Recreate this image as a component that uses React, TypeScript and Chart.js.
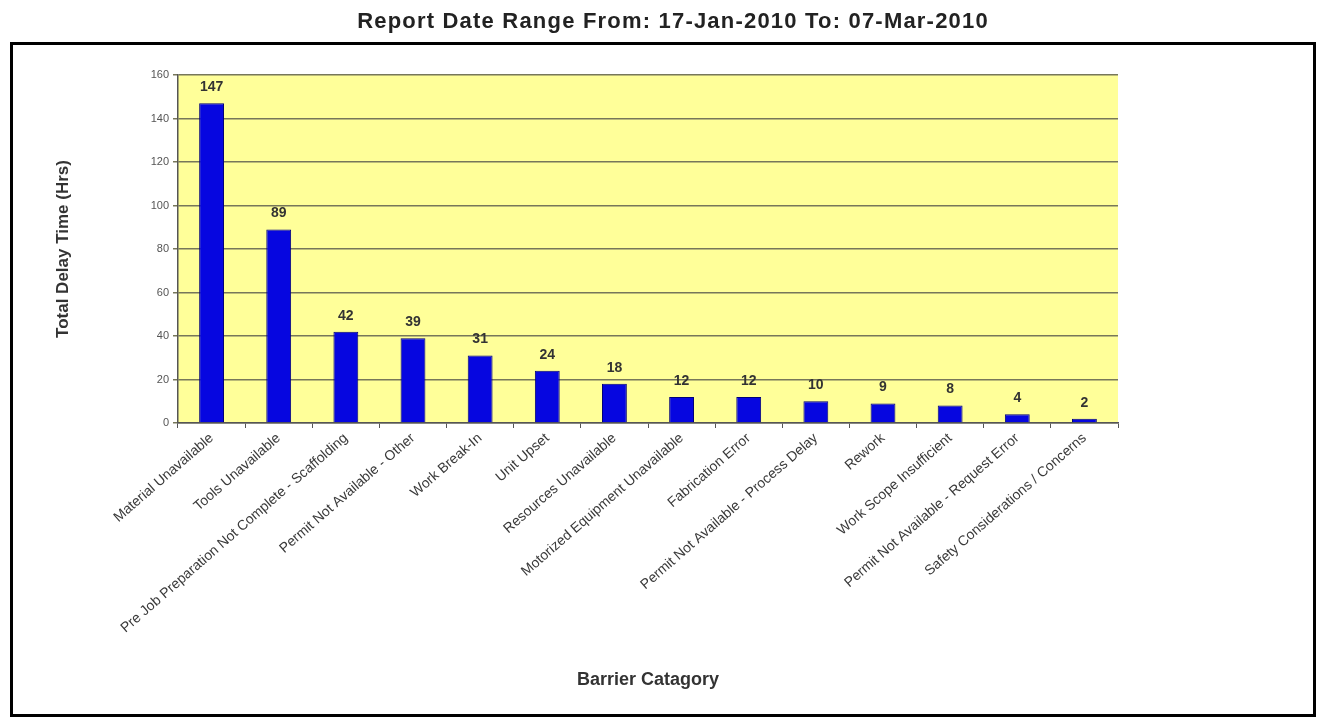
import React, { useEffect, useRef } from "react";
import { Chart, registerables } from "chart.js";

Chart.register(...registerables);

const TITLE = "Report Date Range From: 17-Jan-2010 To: 07-Mar-2010";
const Y_TITLE = "Total Delay Time (Hrs)";
const X_TITLE = "Barrier Catagory";

const categories = [
  "Material Unavailable",
  "Tools Unavailable",
  "Pre Job Preparation Not Complete - Scaffolding",
  "Permit Not Available - Other",
  "Work Break-In",
  "Unit Upset",
  "Resources Unavailable",
  "Motorized Equipment Unavailable",
  "Fabrication Error",
  "Permit Not Available - Process Delay",
  "Rework",
  "Work Scope Insufficient",
  "Permit Not Available - Request Error",
  "Safety Considerations / Concerns",
];

const delayHours = [147, 89, 42, 39, 31, 24, 18, 12, 12, 10, 9, 8, 4, 2];

const yTicks = [0, 20, 40, 60, 80, 100, 120, 140, 160];

const FONT = "'Liberation Sans', Arial, sans-serif";

const decorPlugin = {
  id: "decor",
  beforeDraw(chart: any) {
    const { ctx, chartArea } = chart;
    ctx.save();
    ctx.fillStyle = "#ffffff";
    ctx.fillRect(0, 0, chart.width, chart.height);
    ctx.fillStyle = "#FFFF99";
    ctx.fillRect(chartArea.left, chartArea.top, chartArea.right - chartArea.left, chartArea.bottom - chartArea.top);
    ctx.restore();
  },
  afterDraw(chart: any) {
    const { ctx } = chart;
    ctx.save();
    // outer frame
    ctx.strokeStyle = "#000000";
    ctx.lineWidth = 3;
    ctx.strokeRect(11.5, 43.5, 1303, 672);
    // title
    ctx.fillStyle = "#222222";
    ctx.font = `bold 22px ${FONT}`;
    ctx.textAlign = "center";
    ctx.textBaseline = "middle";
    try {
      (ctx as any).letterSpacing = "1.2px";
    } catch (e) {}
    ctx.fillText(TITLE, 673, 22);
    try {
      (ctx as any).letterSpacing = "0px";
    } catch (e) {}
    // value labels
    const meta = chart.getDatasetMeta(0);
    ctx.font = `bold 14px ${FONT}`;
    ctx.fillStyle = "#333333";
    ctx.textBaseline = "bottom";
    meta.data.forEach((bar: any, i: number) => {
      ctx.fillText(String(delayHours[i]), bar.x, bar.y - 9);
    });
    ctx.restore();
  },
};

export default function App() {
  const ref = useRef<HTMLCanvasElement | null>(null);

  useEffect(() => {
    if (!ref.current) return;
    const chart = new Chart(ref.current, {
      type: "bar",
      data: {
        labels: categories,
        datasets: [
          {
            data: delayHours,
            backgroundColor: "#0606E0",
            borderColor: "#00007a",
            borderWidth: 1,
            barPercentage: 0.37,
            categoryPercentage: 1,
          },
        ],
      },
      options: {
        animation: false,
        responsive: false,
        devicePixelRatio: 1,
        layout: { padding: { left: 49, right: 201, top: 75, bottom: 23 } },
        plugins: {
          legend: { display: false },
          tooltip: { enabled: false },
          title: { display: false },
        },
        scales: {
          x: {
            grid: {
              display: true,
              drawOnChartArea: false,
              drawTicks: true,
              tickLength: 5,
              color: "#555555",
              offset: true,
            },
            border: { display: true, color: "#555555", width: 1.5 },
            ticks: {
              autoSkip: false,
              maxRotation: 41,
              minRotation: 41,
              color: "#3a3a3a",
              font: { family: FONT, size: 14 },
              padding: 2,
            },
            title: {
              display: true,
              text: X_TITLE,
              color: "#333333",
              font: { family: FONT, size: 18, weight: "bold" },
            },
            afterFit(scale: any) {
              scale.height = 272;
            },
          },
          y: {
            min: 0,
            max: 160,
            afterBuildTicks(scale: any) {
              scale.ticks = yTicks.map((v) => ({ value: v }));
            },
            grid: {
              color: "#77775a",
              lineWidth: 1.5,
              tickLength: 5,
            },
            border: { display: true, color: "#555555", width: 1.5 },
            ticks: {
              color: "#555555",
              font: { family: FONT, size: 11 },
              padding: 4,
            },
            title: {
              display: true,
              text: Y_TITLE,
              color: "#333333",
              font: { family: FONT, size: 17, weight: "bold" },
            },
            afterFit(scale: any) {
              scale.width = 129;
            },
          },
        },
      },
      plugins: [decorPlugin],
    } as any);
    return () => chart.destroy();
  }, []);

  return (
    <div style={{ position: "absolute", left: 0, top: 0, width: 1319, height: 718 }}>
      <canvas ref={ref} width={1319} height={718} style={{ display: "block" }} />
    </div>
  );
}
